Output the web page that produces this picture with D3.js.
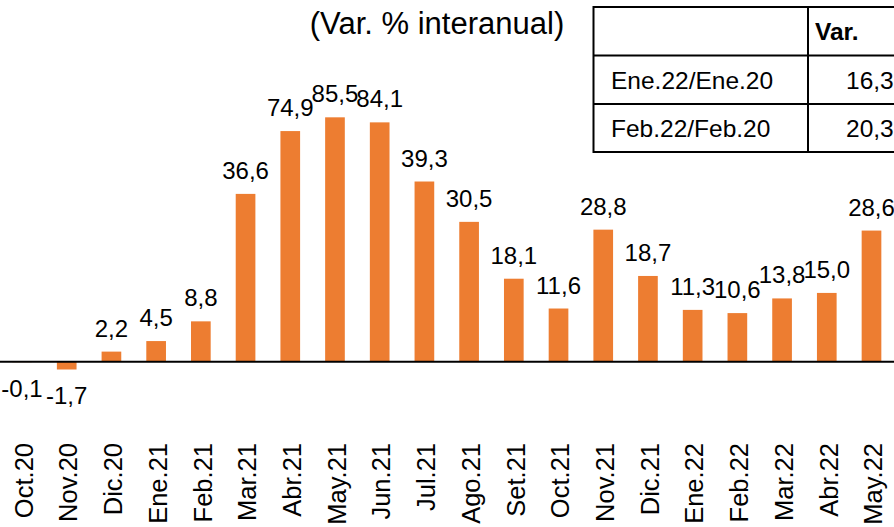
<!DOCTYPE html>
<html>
<head>
<meta charset="utf-8">
<script src="https://cdn.jsdelivr.net/npm/d3@7"></script>
<style>
  body { margin: 0; background: #fff; }
  svg { display: block; font-family: "Liberation Sans", Arial, sans-serif; }
</style>
</head>
<body>
<div id="chart"></div>
<script>
// months shown on the axis
var months = ["Oct.20", "Nov.20", "Dic.20", "Ene.21", "Feb.21", "Mar.21", "Abr.21", "May.21", "Jun.21", "Jul.21",
              "Ago.21", "Set.21", "Oct.21", "Nov.21", "Dic.21", "Ene.22", "Feb.22", "Mar.22", "Abr.22", "May.22"];
// printed data labels (var. % interanual)
var labelValues = [-0.1, -1.7, 2.2, 4.5, 8.8, 36.6, 74.9, 85.5, 84.1, 39.3,
                   30.5, 18.1, 11.6, 28.8, 18.7, 11.3, 10.6, 13.8, 15.0, 28.6];
// bar heights as drawn in the picture (Abr-Jun 21 bars are shorter than their labels)
var barValues = [-0.1, -1.7, 2.2, 4.5, 8.8, 36.6, 50.3, 53.3, 52.2, 39.3,
                 30.5, 18.1, 11.6, 28.8, 18.7, 11.3, 10.6, 13.8, 15.0, 28.6];
// small table at top right (cut off by the frame)
var tableHeader = ["", "Var."];
var tableRows = [["Ene.22/Ene.20", "16,3"], ["Feb.22/Feb.20", "20,3"]];
var title = "(Var. % interanual)";

var W = 894, H = 527;
var svg = d3.select("#chart").append("svg").attr("width", W).attr("height", H);

var x = d3.scaleBand()
    .domain(months)
    .range([-0.35, 893.85])
    .paddingInner(0.56)
    .paddingOuter(0.28);

var y = d3.scaleLinear()
    .domain([0, 50])
    .range([361.7, 132.45]);

var fmt = function(v) { return v.toFixed(1).replace(".", ","); };

// bars
svg.append("g")
  .selectAll("rect")
  .data(months)
  .enter().append("rect")
    .attr("x", function(d) { return x(d); })
    .attr("y", function(d, i) { return y(Math.max(0, barValues[i])); })
    .attr("width", x.bandwidth())
    .attr("height", function(d, i) { return Math.abs(y(barValues[i]) - y(0)); })
    .attr("fill", "#ED7D31");

// zero line
svg.append("line")
    .attr("x1", 0).attr("x2", W)
    .attr("y1", y(0)).attr("y2", y(0))
    .attr("stroke", "#000")
    .attr("stroke-width", 2);

// data labels
svg.append("g")
  .selectAll("text")
  .data(months)
  .enter().append("text")
    .attr("x", function(d) { return x(d) + x.bandwidth() / 2; })
    .attr("y", function(d, i) {
      var v = barValues[i];
      return v >= 0 ? y(v) - 15 : y(v) + 35;
    })
    .attr("text-anchor", "middle")
    .attr("font-size", 24)
    .attr("fill", "#000")
    .text(function(d, i) { return fmt(labelValues[i]); });

// month labels, rotated
svg.append("g")
  .selectAll("text")
  .data(months)
  .enter().append("text")
    .attr("transform", function(d) { return "translate(" + (x(d) + x.bandwidth() / 2) + ",443) rotate(-90)"; })
    .attr("text-anchor", "end")
    .attr("dy", "0.42em")
    .attr("font-size", 25.5)
    .attr("fill", "#000")
    .text(function(d) { return d; });

// title
svg.append("text")
    .attr("x", 437)
    .attr("y", 34)
    .attr("text-anchor", "middle")
    .attr("font-size", 31)
    .attr("fill", "#000")
    .text(title);

// table
var tbl = svg.append("g");
var rowY = [7, 55.5, 104, 152];
var colX = [593.5, 808, 1000];

tbl.append("rect")
    .attr("x", colX[0]).attr("y", rowY[0])
    .attr("width", colX[2] - colX[0]).attr("height", rowY[3] - rowY[0])
    .attr("fill", "#fff")
    .attr("stroke", "#000").attr("stroke-width", 2);

rowY.slice(1, 3).forEach(function(ry) {
  tbl.append("line").attr("x1", colX[0]).attr("x2", colX[2])
      .attr("y1", ry).attr("y2", ry)
      .attr("stroke", "#000").attr("stroke-width", 2);
});
tbl.append("line").attr("x1", colX[1]).attr("x2", colX[1])
    .attr("y1", rowY[0]).attr("y2", rowY[3])
    .attr("stroke", "#000").attr("stroke-width", 2);

tbl.append("text")
    .attr("x", 815).attr("y", (rowY[0] + rowY[1]) / 2 + 9)
    .attr("font-size", 24.5).attr("font-weight", "bold")
    .text(tableHeader[1]);

tableRows.forEach(function(r, i) {
  var cy = (rowY[i + 1] + rowY[i + 2]) / 2 + 9;
  tbl.append("text").attr("x", 611).attr("y", cy)
      .attr("font-size", 24.5).text(r[0]);
  tbl.append("text").attr("x", 846).attr("y", cy)
      .attr("font-size", 24.5).text(r[1]);
});
</script>
</body>
</html>
